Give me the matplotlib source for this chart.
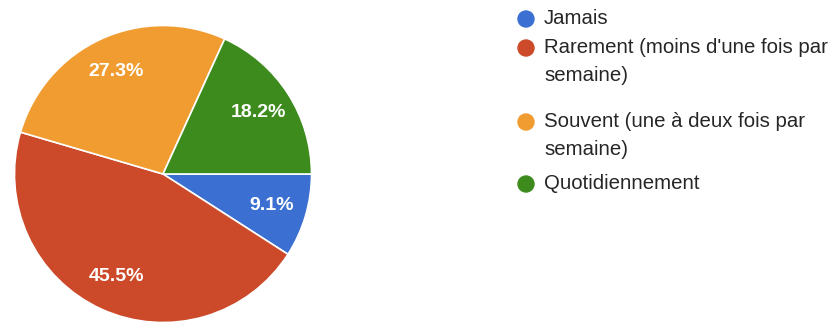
import matplotlib.pyplot as plt
from matplotlib.patches import Circle

categories = [
    'Jamais',
    "Rarement (moins d'une fois par\nsemaine)",
    'Souvent (une à deux fois par\nsemaine)',
    'Quotidiennement',
]
shares = [9.1, 45.5, 27.3, 18.2]
colors = ['#3B6FD1', '#CC4A2A', '#F19C31', '#3E8B1D']

# legend row positions (pixels from top)
legend_y = [19, 48, 122, 184]
W, H = 834, 336

plt.rcParams['font.family'] = ['Liberation Sans', 'DejaVu Sans']
fig = plt.figure(figsize=(W / 100, H / 100), dpi=100)

# pie occupies a 300px square on the left
ax = fig.add_axes([13 / W, (H - 324) / H, 300 / W, 300 / H])
wedges, _, autotexts = ax.pie(
    shares, colors=colors, startangle=0, counterclock=False,
    autopct='%1.1f%%', pctdistance=0.76,
    wedgeprops=dict(edgecolor='white', linewidth=1.2),
    textprops=dict(color='white', fontsize=14, fontweight='bold'),
)
ax.set_xlim(-1.01, 1.01)
ax.set_ylim(-1.01, 1.01)
ax.set_aspect('equal')
ax.axis('off')

# legend drawn by hand so the marker sits on the first line of each label
lax = fig.add_axes([0, 0, 1, 1])
lax.set_xlim(0, W)
lax.set_ylim(H, 0)
lax.axis('off')
for label, color, y in zip(categories, colors, legend_y):
    lax.add_patch(Circle((526, y), 8, color=color))
    lax.text(544, y - 10, label, fontsize=14.7, color='#262626',
             va='top', ha='left', linespacing=1.62)

fig.savefig('out.png', dpi=100)
